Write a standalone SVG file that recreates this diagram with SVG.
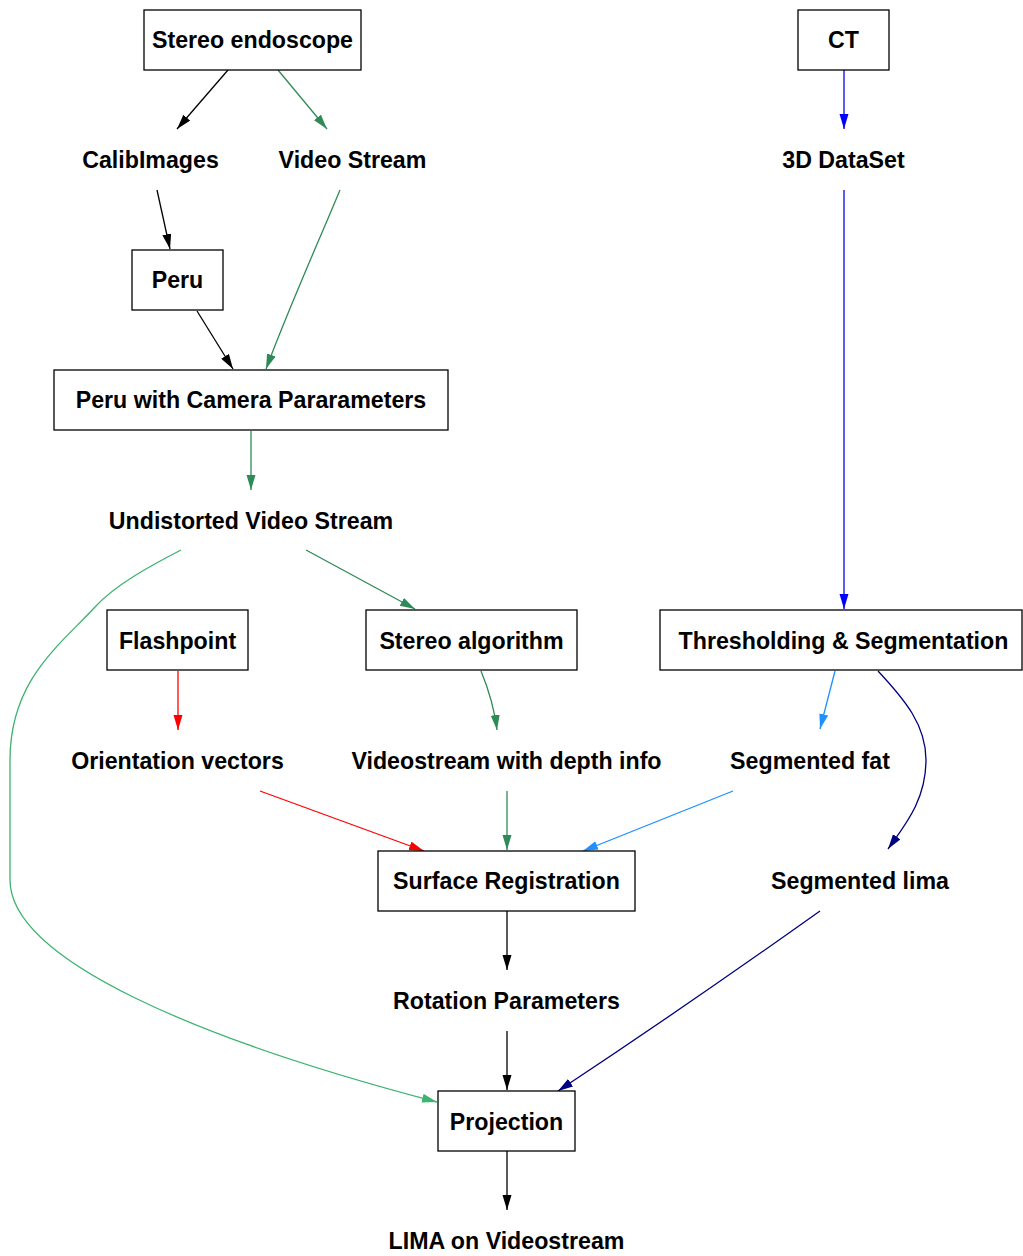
<svg xmlns="http://www.w3.org/2000/svg" width="1023" height="1256" viewBox="0 0 1023 1256">
<style>
.box{fill:#fff;stroke:#000;stroke-width:1.3}
text{font-family:"Liberation Sans",Arial,sans-serif;font-weight:bold;font-size:23.2px;text-anchor:middle;fill:#000}
.e{fill:none;stroke-width:1.3}
</style>
<defs>
<marker id="a-black" markerUnits="userSpaceOnUse" markerWidth="16" markerHeight="10" refX="15" refY="4.5" orient="auto"><path d="M0,0 L15,4.5 L0,9 z" fill="#000"/></marker>
<marker id="a-sg" markerUnits="userSpaceOnUse" markerWidth="16" markerHeight="10" refX="15" refY="4.5" orient="auto"><path d="M0,0 L15,4.5 L0,9 z" fill="#2E8B57"/></marker>
<marker id="a-msg" markerUnits="userSpaceOnUse" markerWidth="16" markerHeight="10" refX="15" refY="4.5" orient="auto"><path d="M0,0 L15,4.5 L0,9 z" fill="#3CB371"/></marker>
<marker id="a-blue" markerUnits="userSpaceOnUse" markerWidth="16" markerHeight="10" refX="15" refY="4.5" orient="auto"><path d="M0,0 L15,4.5 L0,9 z" fill="#0000FF"/></marker>
<marker id="a-red" markerUnits="userSpaceOnUse" markerWidth="16" markerHeight="10" refX="15" refY="4.5" orient="auto"><path d="M0,0 L15,4.5 L0,9 z" fill="#FF0000"/></marker>
<marker id="a-db" markerUnits="userSpaceOnUse" markerWidth="16" markerHeight="10" refX="15" refY="4.5" orient="auto"><path d="M0,0 L15,4.5 L0,9 z" fill="#1E90FF"/></marker>
<marker id="a-navy" markerUnits="userSpaceOnUse" markerWidth="16" markerHeight="10" refX="15" refY="4.5" orient="auto"><path d="M0,0 L15,4.5 L0,9 z" fill="#000080"/></marker>
</defs>
<rect width="1023" height="1256" fill="#fff"/>
<g id="connectors">
<path class="e" stroke="#000" marker-end="url(#a-black)" d="M228,70 L177,129"/>
<path class="e" stroke="#2E8B57" marker-end="url(#a-sg)" d="M278,70 L327,129"/>
<path class="e" stroke="#000" marker-end="url(#a-black)" d="M157,190 L170,249"/>
<path class="e" stroke="#2E8B57" marker-end="url(#a-sg)" d="M340,190 C315,250 290,305 266,369"/>
<path class="e" stroke="#000" marker-end="url(#a-black)" d="M197,311 L233,369"/>
<path class="e" stroke="#0000FF" marker-end="url(#a-blue)" d="M844,70 L844,129"/>
<path class="e" stroke="#2E8B57" marker-end="url(#a-sg)" d="M251,431 L251,490"/>
<path class="e" stroke="#2E8B57" marker-end="url(#a-sg)" d="M306,550 L415,609"/>
<path class="e" stroke="#3CB371" marker-end="url(#a-msg)" d="M181,550 C150,566 115,585 95,607 C60,645 10,680 10,760 L10,880 C10,960 200,1040 437,1102"/>
<path class="e" stroke="#FF0000" marker-end="url(#a-red)" d="M178,671 L178,730"/>
<path class="e" stroke="#2E8B57" marker-end="url(#a-sg)" d="M481,671 C488,688 494,705 497,730"/>
<path class="e" stroke="#0000FF" marker-end="url(#a-blue)" d="M844,190 L844,609"/>
<path class="e" stroke="#1E90FF" marker-end="url(#a-db)" d="M835,671 L820,729"/>
<path class="e" stroke="#000080" marker-end="url(#a-navy)" d="M878,671 C905,700 926,725 926,760 C926,800 905,825 888,849"/>
<path class="e" stroke="#FF0000" marker-end="url(#a-red)" d="M260,791 L424,851"/>
<path class="e" stroke="#2E8B57" marker-end="url(#a-sg)" d="M507,791 L507,850"/>
<path class="e" stroke="#1E90FF" marker-end="url(#a-db)" d="M733,791 L583,851"/>
<path class="e" stroke="#000" marker-end="url(#a-black)" d="M507,911 L507,970"/>
<path class="e" stroke="#000" marker-end="url(#a-black)" d="M507,1031 L507,1090"/>
<path class="e" stroke="#000080" marker-end="url(#a-navy)" d="M820,911 C730,975 620,1050 558,1091"/>
<path class="e" stroke="#000" marker-end="url(#a-black)" d="M507,1151 L507,1210"/>
</g>
<g id="stereo-endoscope"><rect class="box" x="144" y="10" width="217" height="60"/><text x="252.5" y="48">Stereo endoscope</text></g>
<g id="ct"><rect class="box" x="798" y="10" width="91" height="60"/><text x="843.5" y="48">CT</text></g>
<g id="calibimages"><text x="150.5" y="168">CalibImages</text></g>
<g id="video-stream"><text x="352.5" y="168">Video Stream</text></g>
<g id="dataset-3d"><text x="843.5" y="168">3D DataSet</text></g>
<g id="peru"><rect class="box" x="132" y="250" width="91" height="60"/><text x="177.5" y="288">Peru</text></g>
<g id="peru-camera"><rect class="box" x="54" y="370" width="394" height="60"/><text x="251" y="408">Peru with Camera Pararameters</text></g>
<g id="undistorted"><text x="251" y="529">Undistorted Video Stream</text></g>
<g id="flashpoint"><rect class="box" x="107" y="610" width="141" height="60"/><text x="177.5" y="649">Flashpoint</text></g>
<g id="stereo-algorithm"><rect class="box" x="366" y="610" width="211" height="60"/><text x="471.5" y="649">Stereo algorithm</text></g>
<g id="thresholding"><rect class="box" x="660" y="610" width="362" height="60"/><text x="843.5" y="649">Thresholding &amp; Segmentation</text></g>
<g id="orientation-vectors"><text x="177.5" y="769">Orientation vectors</text></g>
<g id="videostream-depth"><text x="506.5" y="769">Videostream with depth info</text></g>
<g id="segmented-fat"><text x="810" y="769">Segmented fat</text></g>
<g id="surface-registration"><rect class="box" x="378" y="851" width="257" height="60"/><text x="506.5" y="889">Surface Registration</text></g>
<g id="segmented-lima"><text x="860" y="889">Segmented lima</text></g>
<g id="rotation-parameters"><text x="506.5" y="1009">Rotation Parameters</text></g>
<g id="projection"><rect class="box" x="438" y="1091" width="137" height="60"/><text x="506.5" y="1130">Projection</text></g>
<g id="lima-videostream"><text x="506.5" y="1249">LIMA on Videostream</text></g>
</svg>
